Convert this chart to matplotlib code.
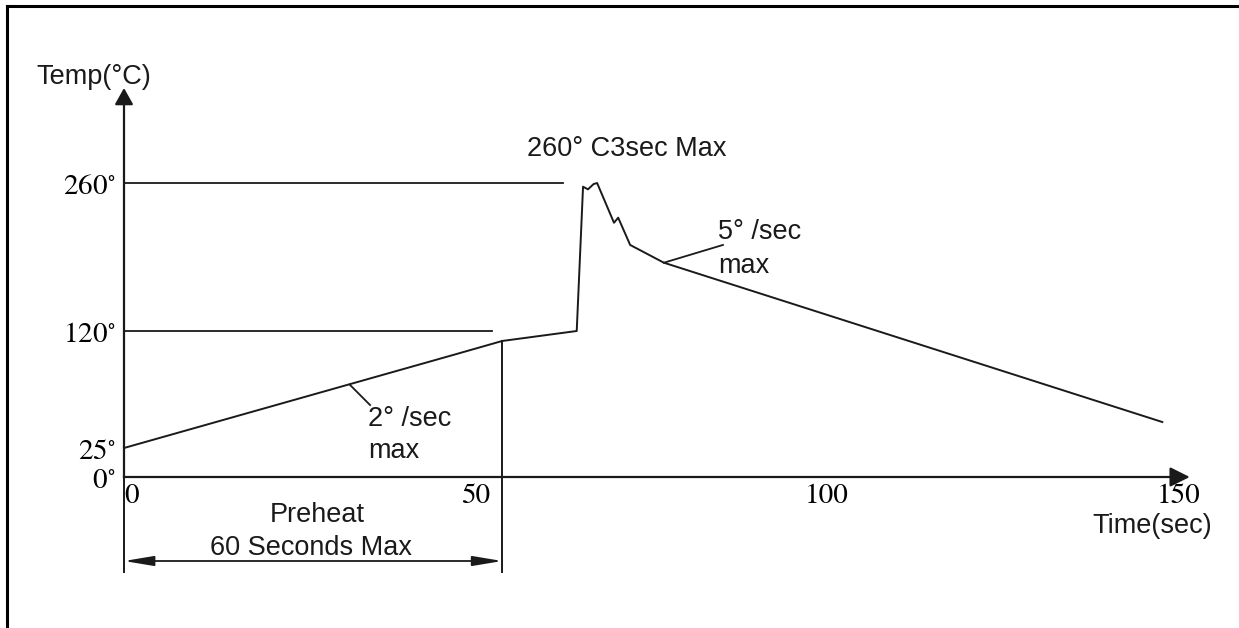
import numpy as np
import matplotlib
matplotlib.use('Agg')
import matplotlib.pyplot as plt
from matplotlib.lines import Line2D

plt.rcParams['font.family'] = ['Liberation Sans', 'DejaVu Sans']
plt.rcParams['mathtext.fontset'] = 'stix'

# reflow profile
time_s = [0, 46.8, 53.8, 64.4, 65.3, 66.0, 66.8, 67.3, 69.7, 70.3, 72.0, 76.8, 147.7]
temp_c = [25, 100.5, 111.9, 120, 256.5, 254, 259, 260, 222.4, 227.2, 201.4, 184.6, 46.1]

y_ticks = [0, 25, 120, 260]
y_labels = [r'$0^{\circ}$', r'$25^{\circ}$', r'$120^{\circ}$', r'$260^{\circ}$']
x_ticks = [0, 50, 100, 150]
x_labels = ['0', '50', '100', '150']
preheat_end = 53.8

# the temperature axis is drawn out of proportion (schematic), piecewise linear
knot_t = [-151, 0, 25, 120, 260, 433]
knot_p = [-151, 0, 29, 146, 294, 477]

def fwd(v):
    return np.interp(v, knot_t, knot_p)

def inv(v):
    return np.interp(v, knot_p, knot_t)

col = '#1a1a1a'
fig = plt.figure(figsize=(12.39, 6.28), dpi=100)
ax = fig.add_axes([0, 0, 1, 1])
ax.set_yscale('function', functions=(fwd, inv))
ax.set_xlim(-17.64, 158.61)
ax.set_ylim(-151, 433)

# axes through the origin
for s in ['top', 'right']:
    ax.spines[s].set_visible(False)
ax.spines['left'].set_position(('data', 0))
ax.spines['bottom'].set_position(('data', 0))
ax.spines['left'].set_bounds(0, 340)
ax.spines['bottom'].set_bounds(0, 150)
for s in ['left', 'bottom']:
    ax.spines[s].set_linewidth(1.6)
    ax.spines[s].set_color(col)

ax.annotate('', xy=(0, 349.8), xytext=(0, 340),
            arrowprops=dict(arrowstyle='-|>,head_length=0.5,head_width=0.28',
                            mutation_scale=20, lw=1.6, color=col, shrinkA=0, shrinkB=0))
ax.annotate('', xy=(151.6, 0), xytext=(150, 0),
            arrowprops=dict(arrowstyle='-|>,head_length=0.6,head_width=0.3',
                            mutation_scale=20, lw=1.6, color=col, shrinkA=0, shrinkB=0))

ax.set_yticks(y_ticks)
ax.set_yticklabels(y_labels, fontsize=21)
ax.tick_params(axis='y', length=0, pad=6)
ax.set_xticks(x_ticks)
ax.set_xticklabels(x_labels, fontsize=21, fontfamily='STIXGeneral')
ax.set_xticks([50, 100], minor=True)
ax.tick_params(axis='x', which='major', length=0, pad=5)
ax.tick_params(axis='x', which='minor', direction='in', length=6, width=1.2, color=col)
ax.get_xticklabels()[0].set_ha('left')

# reference levels
ax.plot([0, 62.4], [260, 260], color=col, lw=1.3)
ax.plot([0, 52.3], [120, 120], color=col, lw=1.3)

# profile
ax.plot(time_s, temp_c, color=col, lw=1.4)

# preheat markers
ax.plot([preheat_end, preheat_end], [-95, temp_c[2]], color=col, lw=1.4)
ax.plot([0, 0], [-95, 0], color=col, lw=1.4)
ax.annotate('', xy=(preheat_end, -84), xytext=(0, -84),
            arrowprops=dict(arrowstyle='<|-|>,head_length=0.9,head_width=0.15',
                            mutation_scale=20, lw=1.3, color=col, shrinkA=0, shrinkB=0))
ax.text(27.5, -45, 'Preheat', fontsize=19.5, ha='center', va='baseline', color=col)
ax.text(26.6, -78, '60 Seconds Max', fontsize=19.5, ha='center', va='baseline', color=col)

# slope callouts
ax.plot([32.1, 35.0], [76.5, 59.9], color=col, lw=1.3)
ax.text(34.7, 42.9, '2° /sec', fontsize=19.5, va='baseline', color=col)
ax.text(34.7, 16.4, 'max', fontsize=19.5, va='baseline', color=col)
ax.plot([76.8, 85.2], [184.6, 201.4], color=col, lw=1.3)
ax.text(84.5, 207, '5° /sec', fontsize=19.5, va='baseline', color=col)
ax.text(84.5, 174.9, 'max', fontsize=19.5, va='baseline', color=col)
ax.text(57.3, 285.5, '260° C3sec Max', fontsize=19.5, va='baseline', color=col)

# axis titles
ax.text(-12.4, 353.6, 'Temp(°C)', fontsize=19.5, va='baseline', color=col)
ax.text(137.8, -56, 'Time(sec)', fontsize=19.5, va='baseline', color=col)

# frame lines (top and left)
fig.add_artist(Line2D([0.00565, 1.0], [0.9904, 0.9904], transform=fig.transFigure, color='black', lw=2.2))
fig.add_artist(Line2D([0.00565, 0.00565], [0.0, 0.9904], transform=fig.transFigure, color='black', lw=2.2))

fig.savefig('out.png', dpi=100)
